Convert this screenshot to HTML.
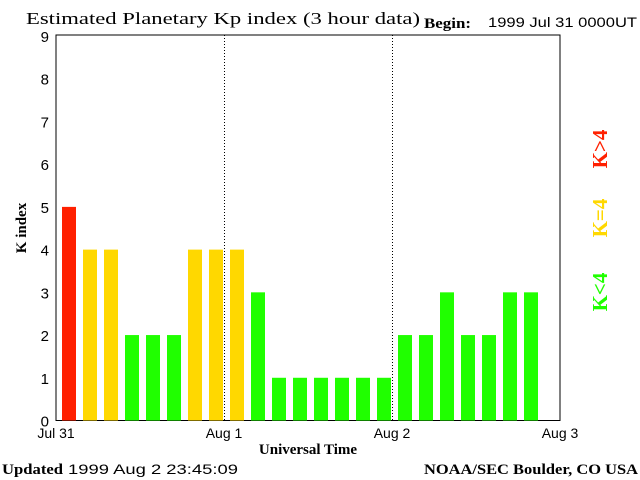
<!DOCTYPE html>
<html><head><meta charset="utf-8"><style>
body{margin:0;background:#fff;width:640px;height:480px;overflow:hidden}
svg{display:block}
.serif{font-family:"Liberation Serif",serif}
.sans{font-family:"Liberation Sans",sans-serif}
</style></head><body>
<svg id="c" width="640" height="480">
<text class="serif" x="26" y="24" font-size="17" textLength="394" lengthAdjust="spacingAndGlyphs">Estimated Planetary Kp index (3 hour data)</text>
<text class="serif" x="424" y="28" font-size="15" font-weight="bold" textLength="47" lengthAdjust="spacingAndGlyphs">Begin:</text>
<text class="sans" x="488" y="27" font-size="14" textLength="149" lengthAdjust="spacingAndGlyphs">1999 Jul 31 0000UT</text>
<text class="serif" x="26" y="228" font-size="15" font-weight="bold" transform="rotate(-90 26 228)" text-anchor="middle">K index</text>
<text class="serif" x="308" y="454" font-size="15" font-weight="bold" text-anchor="middle">Universal Time</text>
<text class="serif" x="2" y="474" font-size="15" font-weight="bold" textLength="61" lengthAdjust="spacingAndGlyphs">Updated</text>
<text class="sans" x="68" y="474" font-size="14" textLength="170" lengthAdjust="spacingAndGlyphs">1999 Aug  2 23:45:09</text>
<text class="serif" x="424" y="474" font-size="15" font-weight="bold" textLength="214" lengthAdjust="spacingAndGlyphs">NOAA/SEC Boulder, CO USA</text>
<g class="serif" font-size="21" font-weight="bold">
<text x="607" y="149" fill="#ff2000" text-anchor="middle" transform="rotate(-90 607 149)">K&gt;4</text>
<text x="607" y="218" fill="#ffd800" text-anchor="middle" transform="rotate(-90 607 218)">K=4</text>
<text x="607" y="292" fill="#20ff00" text-anchor="middle" transform="rotate(-90 607 292)">K&lt;4</text>
</g>
</svg>
<script>
const kValues=[5,4,4,2,2,2,4,4,4,3,1,1,1,1,1,1,2,2,3,2,2,3,3];
const yTicks=[0,1,2,3,4,5,6,7,8,9];
const dayLabels=["Jul 31","Aug 1","Aug 2","Aug 3"];
const X0=56,X1=560,Y0=420.5,Y9=36;
const NS="http://www.w3.org/2000/svg";
const svg=document.getElementById('c');
function xs(slot){return X0+slot*(X1-X0)/24;}
function ys(v){return Y0-v*(Y0-Y9)/9;}
function mk(t,a){const e=document.createElementNS(NS,t);for(const k in a)e.setAttribute(k,a[k]);svg.appendChild(e);return e;}
const frame=mk('rect',{x:X0,y:35,width:X1-X0,height:Y0-35,fill:'none',stroke:'#000','stroke-width':1});


yTicks.forEach(t=>{
 const e=mk('text',{x:49,y:ys(t)+6,'font-size':15,'text-anchor':'end','font-family':'Liberation Sans, sans-serif'});
 e.textContent=t;
 
 
});
dayLabels.forEach((d,i)=>{
 const x=xs(i*8);
 const e=mk('text',{x:x,y:438,'font-size':14,'text-anchor':'middle','font-family':'Liberation Sans, sans-serif'});
 e.textContent=d;
 
 
 if(i>0&&i<dayLabels.length-1){
  const l=mk('line',{x1:x+0.5,x2:x+0.5,y1:35,y2:Y0,stroke:'#000','stroke-dasharray':'1,2'});
  
  
 }
});
kValues.forEach((v,i)=>{
 const c=v>4?'#ff2000':(v==4?'#ffd800':'#20ff00');
 const r=mk('rect',{x:xs(i)+6,y:ys(v),width:14,height:Y0-ys(v),fill:c});
 
 
});
</script>
</body></html>
